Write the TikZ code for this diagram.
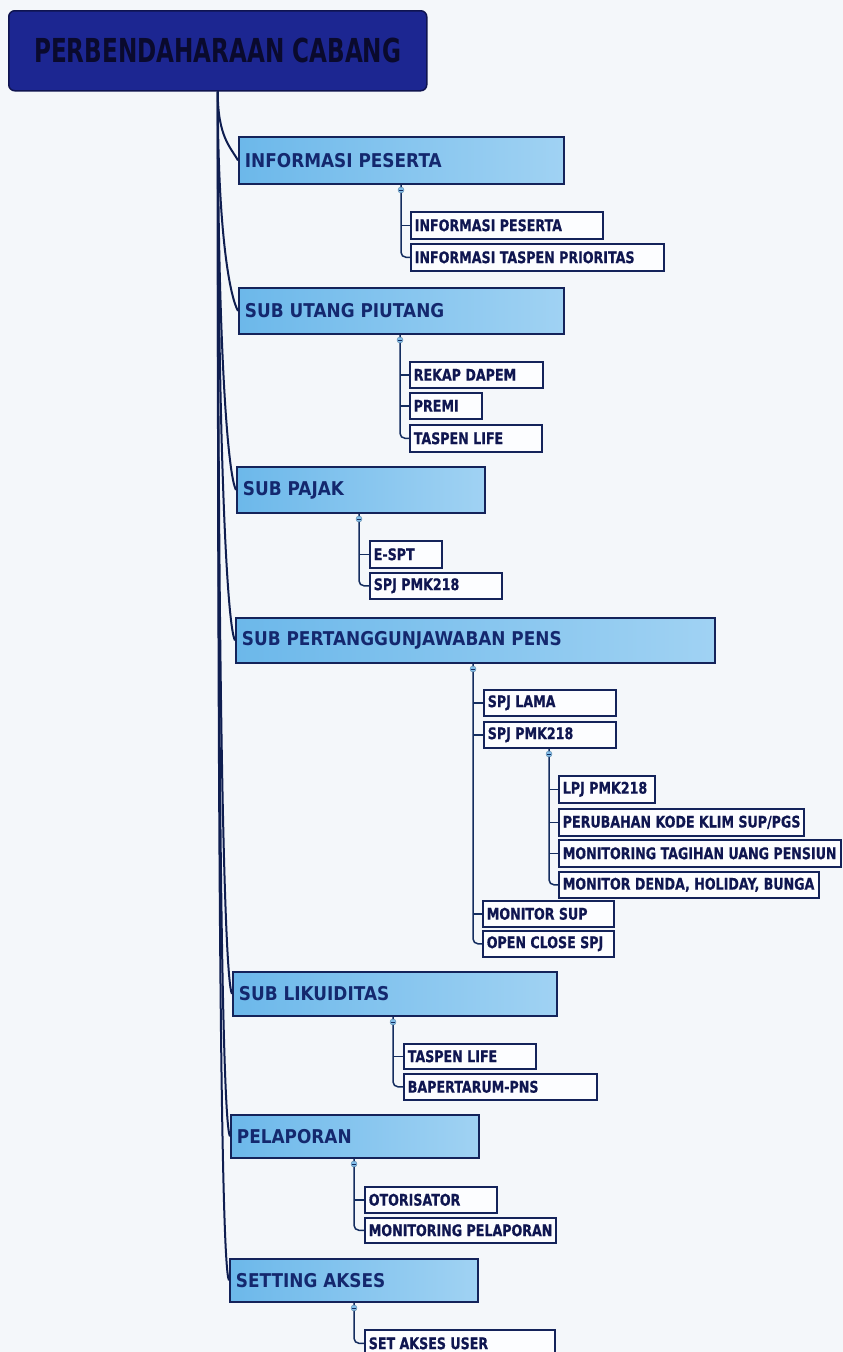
\documentclass[tikz,border=0pt]{standalone}
\usepackage{fontspec}
\setmainfont{DejaVu Sans}
\newfontfamily\rootf{DejaVu Sans}[FakeStretch=0.70]
\newfontfamily\lonef{DejaVu Sans}[FakeStretch=0.89]
\newfontfamily\ltwof{DejaVu Sans}[FakeStretch=0.79,FakeBold=0.6]
\usetikzlibrary{calc}
\definecolor{bgc}{RGB}{244,247,250}
\definecolor{rootfill}{RGB}{28,38,145}
\definecolor{rootline}{RGB}{15,20,80}
\definecolor{roottext}{RGB}{10,10,45}
\definecolor{lba}{RGB}{108,184,234}
\definecolor{lbb}{RGB}{160,210,243}
\definecolor{lline}{RGB}{20,35,90}
\definecolor{ltext}{RGB}{20,40,110}
\definecolor{ltwofill}{RGB}{252,253,255}
\definecolor{ltwotext}{RGB}{15,22,80}
\definecolor{trunkc}{RGB}{15,30,80}
\definecolor{subc}{RGB}{20,45,95}
\definecolor{mkc}{RGB}{130,190,235}
\tikzset{
  rootbox/.style={draw=rootline, line width=1.5pt, fill=rootfill, rounded corners=6pt,
    text=roottext, font={\rootf\bfseries\fontsize{33}{36}\selectfont},
    anchor=north west, inner sep=0pt},
  lone/.style={draw=lline, line width=1.8pt, left color=lba, right color=lbb,
    text=ltext, font={\lonef\bfseries\fontsize{19}{22}\selectfont},
    anchor=north west, inner xsep=6pt, inner ysep=0pt},
  ltwo/.style={draw=lline, line width=1.6pt, fill=ltwofill,
    text=ltwotext, font={\ltwof\bfseries\fontsize{16}{18}\selectfont},
    anchor=north west, inner xsep=4pt, inner ysep=0pt},
  trunk/.style={draw=trunkc, line width=2pt},
  subline/.style={draw=subc, line width=1.5pt},
  marker/.style={circle, fill=mkc, draw=mkc!70!black, line width=0.4pt, inner sep=0pt, minimum size=6pt},
}
% name, x1, y1, x2, y2, text
\newcommand\BoxOne[6]{%
  \pgfmathsetmacro\bw{#4-#2}\pgfmathsetmacro\bh{#5-#3}\pgfmathsetmacro\tw{#4-#2-12}%
  \node[lone, minimum width=\bw pt, minimum height=\bh pt] (#1) at (#2,#3) {\makebox[\tw pt][l]{#6}};}
\newcommand\BoxTwo[6]{%
  \pgfmathsetmacro\bw{#4-#2}\pgfmathsetmacro\bh{#5-#3}\pgfmathsetmacro\tw{#4-#2-8}%
  \node[ltwo, minimum width=\bw pt, minimum height=\bh pt] (#1) at (#2,#3) {\makebox[\tw pt][l]{#6}};}
\newcommand\Trunk[1]{%
  \draw[trunk] (root.south) .. controls ($(root.south)!0.65!(root.south |- #1.west)$) and ($(#1.west)+(-8,-14)$) .. (#1.west);}
\begin{document}
\begin{tikzpicture}[x=1pt,y=-1pt]
\useasboundingbox (0,0) rectangle (843,1352);
\fill[bgc] (0,0) rectangle (843,1352);

% root
\node[rootbox, minimum width=418pt, minimum height=80pt] (root) at (8,10) {PERBENDAHARAAN CABANG};

% level 1
\BoxOne{A}{238}{136}{563}{183}{INFORMASI PESERTA}
\BoxOne{B}{238}{287}{563}{333}{SUB UTANG PIUTANG}
\BoxOne{C}{236}{466}{484}{512}{SUB PAJAK}
\BoxOne{D}{235}{617}{714}{662}{SUB PERTANGGUNJAWABAN PENS}
\BoxOne{E}{232}{971}{556}{1015}{SUB LIKUIDITAS}
\BoxOne{F}{230}{1114}{478}{1157}{PELAPORAN}
\BoxOne{G}{229}{1258}{477}{1301}{SETTING AKSES}

% level 2
\BoxTwo{a1}{410}{211}{602}{238}{INFORMASI PESERTA}
\BoxTwo{a2}{410}{243}{663}{270}{INFORMASI TASPEN PRIORITAS}
\BoxTwo{b1}{409}{361}{542}{387}{REKAP DAPEM}
\BoxTwo{b2}{409}{392}{481}{418}{PREMI}
\BoxTwo{b3}{409}{424}{541}{451}{TASPEN LIFE}
\BoxTwo{c1}{369}{540}{441}{567}{E-SPT}
\BoxTwo{c2}{369}{572}{501}{598}{SPJ PMK218}
\BoxTwo{d1}{483}{689}{615}{715}{SPJ LAMA}
\BoxTwo{d2}{483}{721}{615}{747}{SPJ PMK218}
\BoxTwo{d3}{482}{900}{613}{926}{MONITOR SUP}
\BoxTwo{d4}{482}{930}{613}{956}{OPEN CLOSE SPJ}
\BoxTwo{e1}{558}{775}{654}{802}{LPJ PMK218}
\BoxTwo{e2}{558}{808}{803}{835}{PERUBAHAN KODE KLIM SUP/PGS}
\BoxTwo{e3}{558}{839}{840}{866}{MONITORING TAGIHAN UANG PENSIUN}
\BoxTwo{e4}{558}{871}{818}{897}{MONITOR DENDA, HOLIDAY, BUNGA}
\BoxTwo{f1}{403}{1043}{535}{1068}{TASPEN LIFE}
\BoxTwo{f2}{403}{1073}{596}{1099}{BAPERTARUM-PNS}
\BoxTwo{g1}{364}{1186}{496}{1212}{OTORISATOR}
\BoxTwo{g2}{364}{1217}{555}{1242}{MONITORING PELAPORAN}
\BoxTwo{h1}{364}{1329}{554}{1356}{SET AKSES USER}

% trunk curves
\Trunk{A}\Trunk{B}\Trunk{C}\Trunk{D}\Trunk{E}\Trunk{F}\Trunk{G}

% markers (positions)
\coordinate (mA) at (401,190);
\coordinate (mB) at (400,340);
\coordinate (mC) at (359,519);
\coordinate (mD) at (473,669);
\coordinate (mD2) at (549,754);
\coordinate (mE) at (393,1022);
\coordinate (mF) at (354,1164);
\coordinate (mG) at (354,1308);

% sub connectors
\draw[subline, rounded corners=5pt] (A.south -| mA) |- (a2.west);
\draw[subline] (a1.west -| mA) -- (a1.west);

\draw[subline, rounded corners=5pt] (B.south -| mB) |- (b3.west);
\draw[subline] (b1.west -| mB) -- (b1.west);
\draw[subline] (b2.west -| mB) -- (b2.west);

\draw[subline, rounded corners=5pt] (C.south -| mC) |- (c2.west);
\draw[subline] (c1.west -| mC) -- (c1.west);

\draw[subline, rounded corners=5pt] (D.south -| mD) |- (d4.west);
\draw[subline] (d1.west -| mD) -- (d1.west);
\draw[subline] (d2.west -| mD) -- (d2.west);
\draw[subline] (d3.west -| mD) -- (d3.west);

\draw[subline, rounded corners=5pt] (d2.south -| mD2) |- (e4.west);
\draw[subline] (e1.west -| mD2) -- (e1.west);
\draw[subline] (e2.west -| mD2) -- (e2.west);
\draw[subline] (e3.west -| mD2) -- (e3.west);

\draw[subline, rounded corners=5pt] (E.south -| mE) |- (f2.west);
\draw[subline] (f1.west -| mE) -- (f1.west);

\draw[subline, rounded corners=5pt] (F.south -| mF) |- (g2.west);
\draw[subline] (g1.west -| mF) -- (g1.west);

\draw[subline, rounded corners=5pt] (G.south -| mG) |- (h1.west);

% marker glyphs
\foreach \m in {mA,mB,mC,mD,mD2,mE,mF,mG}{
  \node[marker] (k\m) at (\m) {};
  \draw[subc, line width=0.8pt] ($(k\m.center)+(-2,0)$) -- ($(k\m.center)+(2,0)$);
}
\end{tikzpicture}
\end{document}
